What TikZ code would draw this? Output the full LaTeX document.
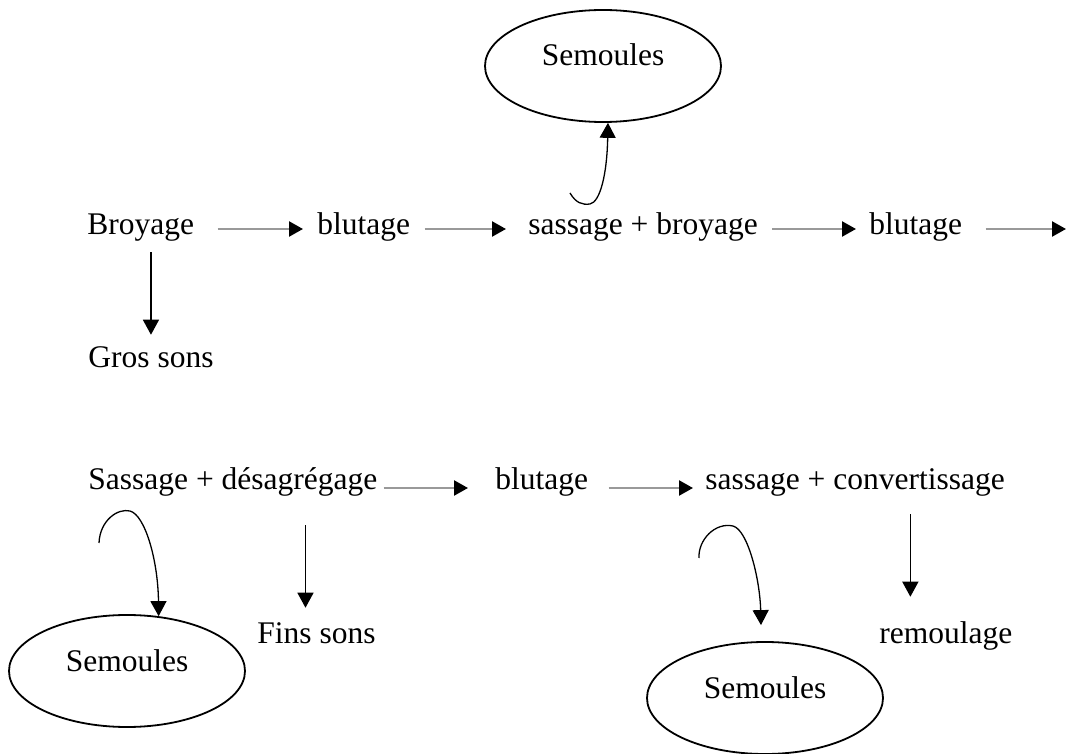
\documentclass[tikz,border=0pt]{standalone}
\usepackage{fontspec}
\setmainfont{Liberation Serif}
\usetikzlibrary{arrows.meta,shapes.geometric}

\begin{document}
\begin{tikzpicture}[x=0.5pt, y=-0.5pt, font=\fontsize{15.75}{19}\selectfont,
      stage/.style={inner sep=0pt, anchor=base west},
      pool/.style={draw, ellipse, line width=0.9pt, minimum width=118pt, minimum height=56pt,
        text height=10.5pt, text depth=10.5pt},
      flow/.style={-{Triangle[color=black, length=7pt, width=7.5pt]}, draw=black!40, line width=1.2pt},
      drop/.style={-{Triangle[length=7.5pt, width=8pt]}, line width=0.65pt},
      curl/.style={-{Triangle[length=7.5pt, width=8pt]}, line width=0.65pt}]
    \useasboundingbox (0,0) rectangle (1067,754);
    % ---- first line
    \node[stage] (broy) at (87,235) {Broyage};
    \node[stage] (blut1) at (317,235) {blutage};
    \node[stage] (sasbr) at (528,235) {sassage + broyage};
    \node[stage] (blut2) at (869,235) {blutage};
    \coordinate (cont) at (1066,229);
    \node[stage] (gros) at (88,368) {Gros sons};
    \node[pool] (sem1) at (603,66) {Semoules};
    \draw[flow] ([xshift=11.5pt,yshift=3pt]broy.base east) -- ([xshift=-7pt,yshift=3pt]blut1.base west);
    \draw[flow] ([xshift=7pt,yshift=3pt]blut1.base east) -- ([xshift=-11pt,yshift=3pt]sasbr.base west);
    \draw[flow] ([xshift=7pt,yshift=3pt]sasbr.base east) -- ([xshift=-6.5pt,yshift=3pt]blut2.base west);
    \draw[flow] ([xshift=11.5pt,yshift=3pt]blut2.base east) -- (cont);
    \draw[drop, shorten <=5pt, shorten >=6pt] (gros.north |- broy.south) -- (gros.north);
    \coordinate (c1) at (570,193);
    \draw[curl] (c1) .. controls (576,203) and (582,205) .. (590,204)
      .. controls (600,202) and (607,175) .. (sem1.-85);
    % ---- second line
    \node[stage] (desag) at (88,490) {Sassage + désagrégage};
    \node[stage] (blut3) at (495,490) {blutage};
    \node[stage] (sasco) at (705,490) {sassage + convertissage};
    \node[stage] (fins) at (257,643) {Fins sons};
    \node[stage] (remou) at (879,643) {remoulage};
    \node[pool] (sem2) at (127,671) {Semoules};
    \node[pool] (sem3) at (765,698) {Semoules};
    \draw[flow] ([xshift=3pt,yshift=1pt]desag.base east) -- ([xshift=-13.5pt,yshift=1pt]blut3.base west);
    \draw[flow] ([xshift=10pt,yshift=1pt]blut3.base east) -- ([xshift=-6pt,yshift=1pt]sasco.base west);
    \draw[drop, shorten <=14pt, shorten >=7pt] ([xshift=-5.5pt]fins.north |- desag.south) -- ([xshift=-5.5pt]fins.north);
    \draw[drop, shorten <=8.5pt, shorten >=12pt] ([xshift=-17.75pt]remou.north |- sasco.south) -- ([xshift=-17.75pt]remou.north);
    \coordinate (c2) at (99,543);
    \draw[curl] (c2) .. controls (100,520) and (118,508) .. (130,511)
      .. controls (145,515) and (158,560) .. (sem2.60);
    \coordinate (c3) at (699,558);
    \draw[curl] (c3) .. controls (698,540) and (715,522) .. (733,526)
      .. controls (748,530) and (760,580) .. ([xshift=-2pt,yshift=8pt]sem3.north);
  \end{tikzpicture}
\end{document}
